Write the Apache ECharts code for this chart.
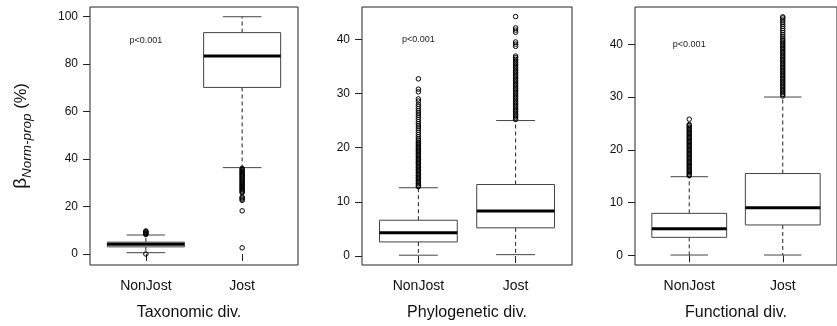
<!DOCTYPE html>
<html>
<head>
<meta charset="utf-8">
<script src="https://cdn.jsdelivr.net/npm/echarts@6/dist/echarts.min.js"></script>
<style>html,body{margin:0;padding:0;background:#fff;}#c{width:837px;height:326px;}</style>
</head>
<body>
<div id="c"></div>
<script>
const categories = ['NonJost', 'Jost'];
const panelTitles = ['Taxonomic div.', 'Phylogenetic div.', 'Functional div.'];
const pLabel = 'p<0.001';
const pLabelY = [90, 40, 40];

// tick labels
const taxTicks = [0, 20, 40, 60, 80, 100];
const phyTicks = [0, 10, 20, 30, 40];
const funTicks = [0, 10, 20, 30, 40];

// boxes: [lower whisker, Q1, median, Q3, upper whisker]
const taxNonJost = [0.55, 3.0, 4.1, 5.0, 8.0];
const taxJost = [36.4, 70.2, 83.4, 93.3, 100];
const phyNonJost = [0.15, 2.6, 4.3, 6.6, 12.6];
const phyJost = [0.25, 5.2, 8.3, 13.2, 25.0];
const funNonJost = [0.05, 3.4, 5.05, 7.95, 14.9];
const funJost = [0.05, 5.75, 9.0, 15.5, 30.0];

// outliers
const taxNonJostOut = [8.2, 8.5, 8.8, 9.1, 9.4, 9.7, 0.0];
const taxJostOut = [36.1, 35.6, 35.2, 34.7, 34.3, 33.8, 33.4, 32.9, 32.5, 32.0, 31.6, 31.1, 30.7, 30.2, 29.8, 29.3, 28.9, 28.4, 28.0, 27.5, 27.1, 26.6, 26.2, 25.8, 24.0, 23.6, 23.1, 22.6, 18.2, 2.6];
const phyNonJostOut = [12.8,13.0,13.3,13.5,13.8,14.0,14.3,14.5,14.8,15.0,15.3,15.5,15.8,16.0,16.3,16.5,16.8,17.0,17.3,17.5,17.8,18.0,18.3,18.5,18.8,19.0,19.3,19.5,19.8,20.0,20.3,20.5,20.8,21.0,21.3,21.6,22.0,22.4,22.8,23.2,23.6,24.0,24.4,24.8,25.2,25.6,26.0,26.4,26.8,27.2,27.6,28.0,28.6,29.0,30.3,30.8,32.7];
const phyJostOut = [25.2,25.5,25.8,26.1,26.4,26.7,27.0,27.3,27.6,27.9,28.2,28.5,28.8,29.1,29.4,29.7,30.0,30.3,30.6,30.9,31.2,31.5,31.8,32.1,32.4,32.7,33.0,33.3,33.6,33.9,34.2,34.5,34.8,35.1,35.4,35.7,36.0,36.3,36.6,36.9,38.7,39.1,39.5,41.3,41.7,42.1,44.2];
const funNonJostOut = [15.1,15.3,15.6,15.8,16.1,16.3,16.6,16.8,17.1,17.3,17.6,17.8,18.1,18.3,18.6,18.8,19.1,19.3,19.6,19.8,20.1,20.3,20.6,20.8,21.1,21.3,21.6,21.8,22.1,22.3,22.6,22.8,23.1,23.3,23.6,23.8,24.1,24.3,24.6,24.8,25.8];
const funJostOut = [30.2,30.5,30.8,31.1,31.4,31.7,32.0,32.3,32.6,32.9,33.2,33.5,33.8,34.1,34.4,34.7,35.0,35.3,35.6,35.9,36.2,36.5,36.8,37.1,37.4,37.7,38.0,38.3,38.6,38.9,39.2,39.5,39.8,40.1,40.4,40.7,41.0,41.4,41.8,42.2,42.6,43.0,43.4,43.8,44.2,44.6,45.0,45.2];

const FONT = 'Liberation Sans, Arial, Helvetica, sans-serif';

const panels = [
  { boxes: [taxNonJost, taxJost], outs: [taxNonJostOut, taxJostOut], ticks: taxTicks,
    grid: { left: 90, width: 208 }, yMin: -4.64, yMax: 104.1 },
  { boxes: [phyNonJost, phyJost], outs: [phyNonJostOut, phyJostOut], ticks: phyTicks,
    grid: { left: 362, width: 210 }, yMin: -1.66, yMax: 45.96 },
  { boxes: [funNonJost, funJost], outs: [funNonJostOut, funJostOut], ticks: funTicks,
    grid: { left: 635, width: 209 }, yMin: -1.84, yMax: 47.07 }
];

function renderBox(params, api) {
  const x = api.value(0);
  const lo = api.value(1), q1 = api.value(2), med = api.value(3), q3 = api.value(4), hi = api.value(5);
  const xl = api.coord([x - 0.4, med])[0];
  const xr = api.coord([x + 0.4, med])[0];
  const xc = api.coord([x, med])[0];
  const sl = api.coord([x - 0.2, med])[0];
  const sr = api.coord([x + 0.2, med])[0];
  const yLo = api.coord([x, lo])[1];
  const yHi = api.coord([x, hi])[1];
  const yQ1 = api.coord([x, q1])[1];
  const yQ3 = api.coord([x, q3])[1];
  const yMed = api.coord([x, med])[1];
  const dash = { stroke: '#222', lineWidth: 1, lineDash: [4, 3] };
  const solid = { stroke: '#444', lineWidth: 1 };
  return {
    type: 'group',
    children: [
      { type: 'line', shape: { x1: xc, y1: yQ3, x2: xc, y2: yHi }, style: dash },
      { type: 'line', shape: { x1: xc, y1: yQ1, x2: xc, y2: yLo }, style: dash },
      { type: 'line', shape: { x1: sl, y1: yHi, x2: sr, y2: yHi }, style: solid },
      { type: 'line', shape: { x1: sl, y1: yLo, x2: sr, y2: yLo }, style: solid },
      { type: 'rect', shape: { x: xl, y: yQ3, width: xr - xl, height: yQ1 - yQ3 },
        style: { fill: '#fff', stroke: '#444', lineWidth: 1 } },
      { type: 'line', shape: { x1: xl, y1: yMed, x2: xr, y2: yMed }, style: { stroke: '#000', lineWidth: 3 } }
    ]
  };
}

function renderP(params, api) {
  const p = api.coord([api.value(0), api.value(1)]);
  return {
    type: 'text', x: p[0], y: p[1],
    style: { text: pLabel, fill: '#222', fontSize: 9, fontFamily: FONT, align: 'center', verticalAlign: 'middle' }
  };
}

const grids = [], xAxes = [], yAxes = [], series = [];
panels.forEach((pn, i) => {
  grids.push({ left: pn.grid.left, width: pn.grid.width, top: 7, height: 258,
    show: true, borderColor: '#222', borderWidth: 1, backgroundColor: 'transparent' });
  xAxes.push({
    gridIndex: i, type: 'value', min: 0.42, max: 2.58,
    axisLine: { show: false }, splitLine: { show: false },
    axisTick: { show: true, customValues: [1, 2], length: 7, lineStyle: { color: '#222' } },
    axisLabel: { customValues: [1, 2], formatter: v => categories[Math.round(v) - 1] || '',
      fontSize: 14, color: '#111', margin: 14, fontFamily: FONT },
    name: panelTitles[i], nameLocation: 'middle', nameGap: 40,
    nameTextStyle: { fontSize: 16, color: '#111', fontFamily: FONT, padding: i === 0 ? [0, 10, 0, 0] : 0 }
  });
  const ya = {
    gridIndex: i, type: 'value', min: pn.yMin, max: pn.yMax,
    axisLine: { show: false }, splitLine: { show: false },
    axisTick: { show: true, customValues: pn.ticks, length: 7, lineStyle: { color: '#222' } },
    axisLabel: { customValues: pn.ticks, fontSize: 12, color: '#111', margin: 12, fontFamily: FONT }
  };
  if (i === 0) {
    ya.name = '{b|β}{s|Norm-prop}{n| (%)}';
    ya.nameLocation = 'middle';
    ya.nameRotate = 90;
    ya.nameGap = 56;
    ya.nameTextStyle = {
      color: '#111', fontFamily: FONT,
      rich: {
        b: { fontSize: 19, lineHeight: 26, fontFamily: FONT, color: '#111' },
        s: { fontSize: 13.5, lineHeight: 14, padding: [12, 0, 0, 0], fontStyle: 'italic', fontFamily: FONT, color: '#111' },
        n: { fontSize: 16.5, lineHeight: 26, fontFamily: FONT, color: '#111' }
      }
    };
  }
  yAxes.push(ya);
  series.push({
    type: 'custom', xAxisIndex: i, yAxisIndex: i, renderItem: renderBox, z: 2,
    data: pn.boxes.map((b, k) => [k + 1].concat(b)), silent: true
  });
  const pts = [];
  pn.outs.forEach((arr, k) => arr.forEach(v => pts.push([k + 1, v])));
  series.push({
    type: 'scatter', xAxisIndex: i, yAxisIndex: i, z: 3, silent: true,
    symbol: 'circle', symbolSize: 4.5,
    itemStyle: { color: 'rgba(0,0,0,0)', borderColor: '#000', borderWidth: 1, opacity: 1 },
    data: pts
  });
  series.push({
    type: 'custom', xAxisIndex: i, yAxisIndex: i, renderItem: renderP, z: 4, silent: true,
    data: [[1, pLabelY[i]]]
  });
});

const chart = echarts.init(document.getElementById('c'), null, { renderer: 'canvas' });
chart.setOption({ animation: false, grid: grids, xAxis: xAxes, yAxis: yAxes, series: series });
</script>
</body>
</html>
